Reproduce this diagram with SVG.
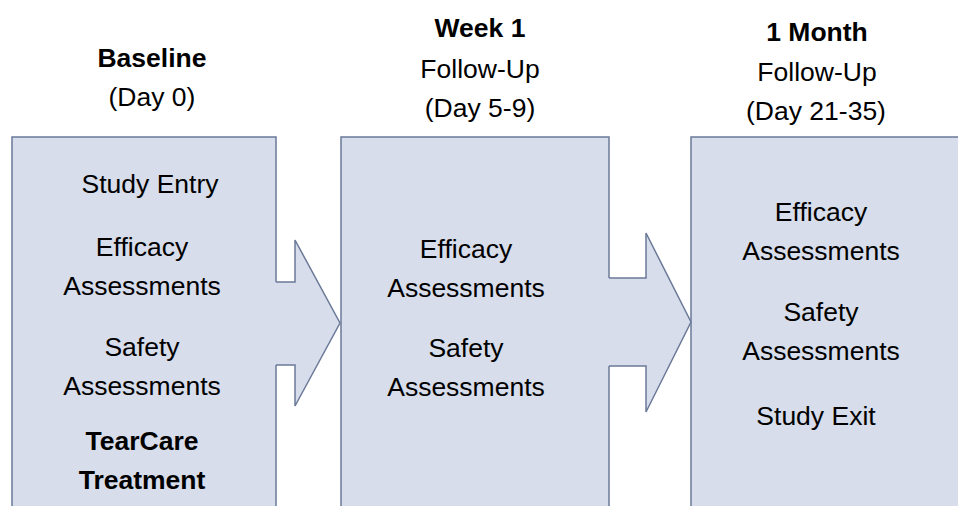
<svg xmlns="http://www.w3.org/2000/svg" width="958" height="506" viewBox="0 0 958 506">
  <style>
    .box { fill: #D7DDEA; stroke: #6B7A99; stroke-width: 1.5; }
    .arrowfill { fill: #D7DDEA; stroke: none; }
    .arrowline { fill: none; stroke: #6B7A99; stroke-width: 1.5; stroke-linejoin: miter; }
    text { font-family: "Liberation Sans", Arial, sans-serif; font-size: 26.5px; fill: #000; text-anchor: middle; }
    .b { font-weight: bold; }
  </style>
  <rect width="958" height="506" fill="#FFFFFF"/>

  <g id="baseline">
    <rect class="box" x="12" y="137" width="264" height="400"/>
    <text class="b" x="152" y="67">Baseline</text>
    <text x="152" y="106">(Day 0)</text>
    <text x="150" y="193">Study Entry</text>
    <text x="142" y="256">Efficacy</text>
    <text x="142" y="295">Assessments</text>
    <text x="142" y="356">Safety</text>
    <text x="142" y="395">Assessments</text>
    <text class="b" x="142" y="450">TearCare</text>
    <text class="b" x="142" y="489">Treatment</text>
  </g>

  <g id="week1">
    <rect class="box" x="341" y="137" width="268" height="400"/>
    <text class="b" x="480" y="37">Week 1</text>
    <text x="480" y="78">Follow-Up</text>
    <text x="480" y="117">(Day 5-9)</text>
    <text x="466" y="258">Efficacy</text>
    <text x="466" y="297">Assessments</text>
    <text x="466" y="357">Safety</text>
    <text x="466" y="396">Assessments</text>
  </g>

  <g id="month1">
    <rect class="box" x="691" y="137" width="300" height="400"/>
    <text class="b" x="817" y="41">1 Month</text>
    <text x="817" y="81">Follow-Up</text>
    <text x="816" y="120">(Day 21-35)</text>
    <text x="821" y="221">Efficacy</text>
    <text x="821" y="260">Assessments</text>
    <text x="821" y="321">Safety</text>
    <text x="821" y="360">Assessments</text>
    <text x="816" y="425">Study Exit</text>
  </g>

  <g id="connectors">
    <polygon class="arrowfill" points="274.5,282 295,282 295,240 340,323 295,406 295,365 274.5,365"/>
    <polyline class="arrowline" points="276,282 295,282 295,240 340,323 295,406 295,365 276,365"/>
    <polygon class="arrowfill" points="607.5,278 646,278 646,233 691,322 646,412 646,366 607.5,366"/>
    <polyline class="arrowline" points="609,278 646,278 646,233 691,322 646,412 646,366 609,366"/>
  </g>
</svg>
